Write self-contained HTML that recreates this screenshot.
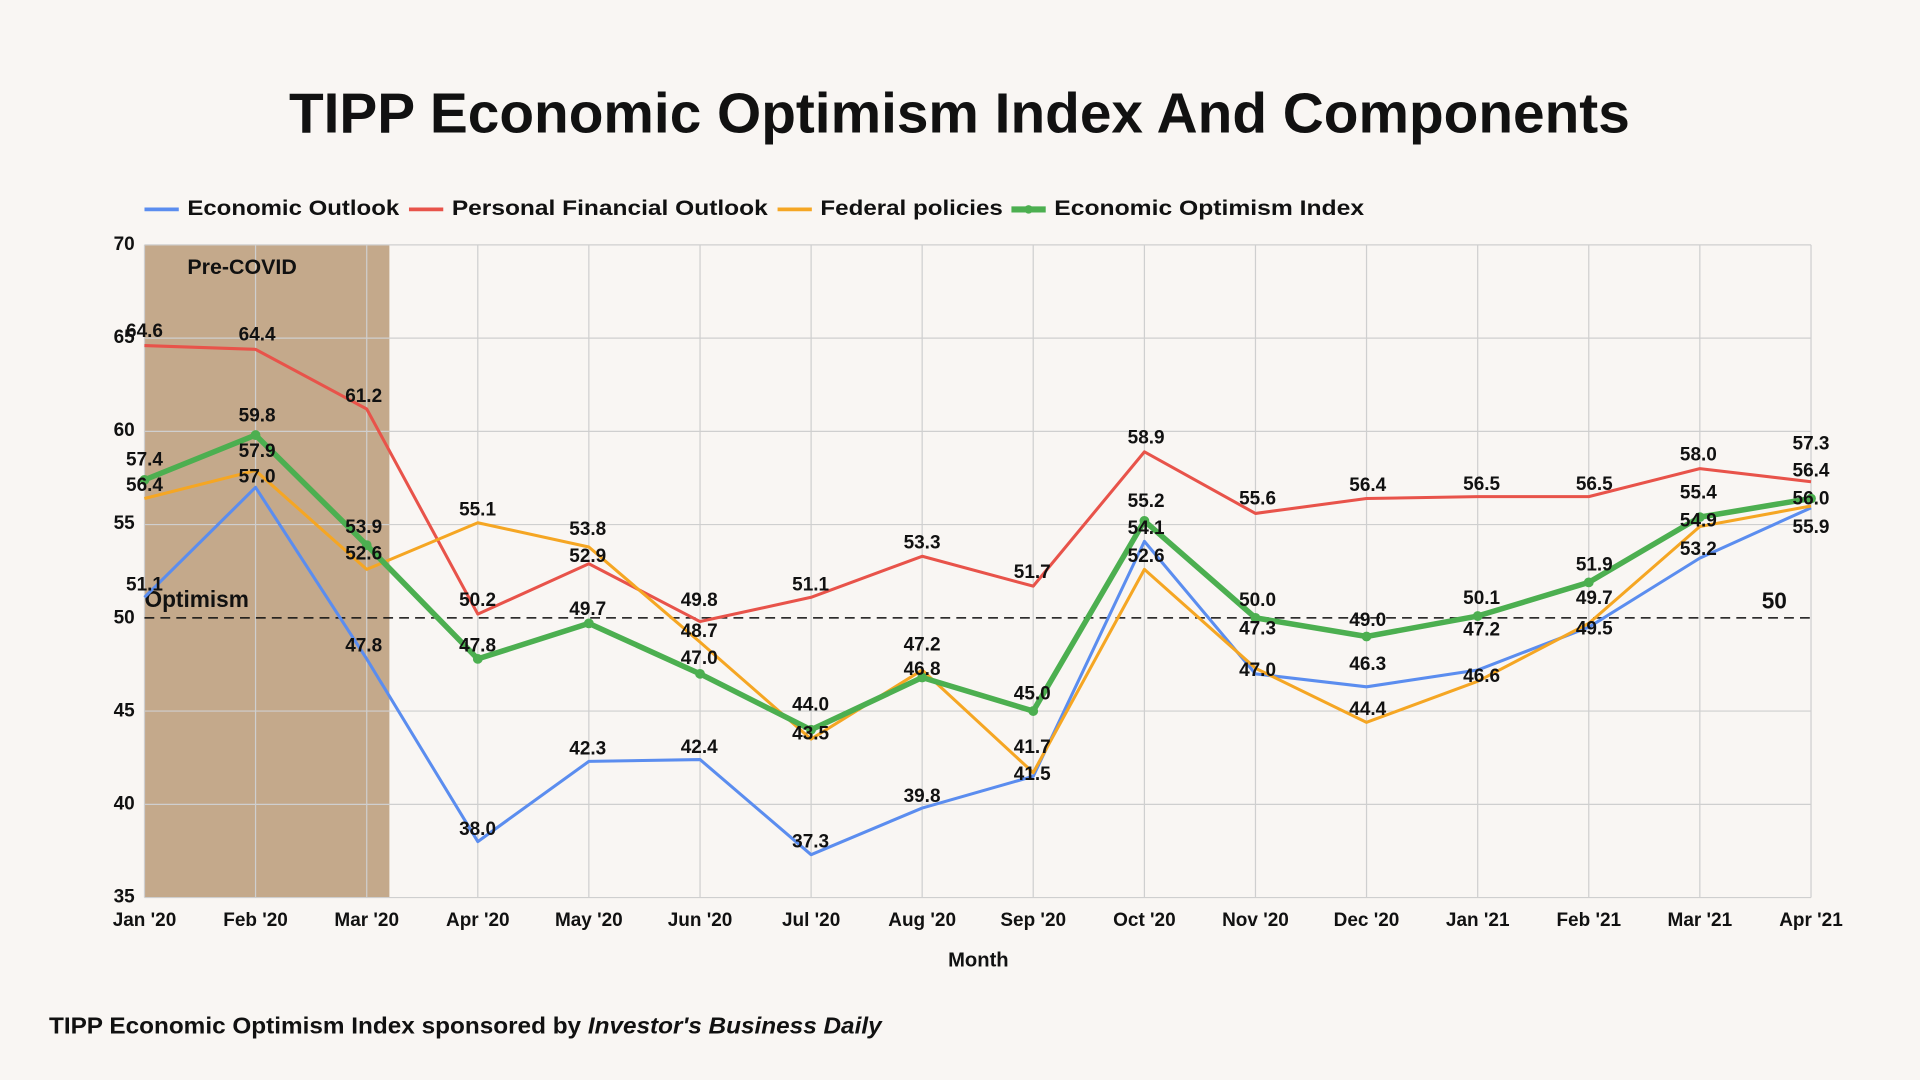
<!DOCTYPE html>
<html><head><meta charset="utf-8"><style>
html,body{margin:0;padding:0;background:#f9f6f3;}
svg{display:block;font-family:"Liberation Sans","DejaVu Sans",sans-serif;}
.l{font-size:15.5px;fill:#111;text-anchor:middle;dominant-baseline:middle;font-weight:bold}
</style></head><body>
<svg width="1920" height="1080" viewBox="0 0 1568 882" xmlns="http://www.w3.org/2000/svg">
<rect width="1568" height="882" fill="#f9f6f3"/>
<text x="236" y="96" textLength="1095" lengthAdjust="spacingAndGlyphs" dominant-baseline="middle" font-size="46" font-weight="bold" fill="#111">TIPP Economic Optimism Index And Components</text>
<g font-size="17.5" fill="#111" dominant-baseline="middle" font-weight="bold">
<line x1="118" y1="171" x2="146" y2="171" stroke="#5b8def" stroke-width="3"/><text x="153" y="171" textLength="173" lengthAdjust="spacingAndGlyphs">Economic Outlook</text>
<line x1="334" y1="171" x2="362" y2="171" stroke="#e8534a" stroke-width="3"/><text x="369" y="171" textLength="258" lengthAdjust="spacingAndGlyphs">Personal Financial Outlook</text>
<line x1="635" y1="171" x2="663" y2="171" stroke="#f5a623" stroke-width="3"/><text x="670" y="171" textLength="149" lengthAdjust="spacingAndGlyphs">Federal policies</text>
<line x1="826" y1="171" x2="854" y2="171" stroke="#4caf50" stroke-width="5"/><circle cx="840" cy="171" r="3.5" fill="#4caf50"/><text x="861" y="171" textLength="253" lengthAdjust="spacingAndGlyphs">Economic Optimism Index</text>
</g>
<rect x="118" y="200" width="200" height="533" fill="#c4a98b"/>
<g stroke="#cfcfcf" stroke-width="1">
<line x1="118" y1="200" x2="1479" y2="200"/><line x1="118" y1="276.1" x2="1479" y2="276.1"/><line x1="118" y1="352.3" x2="1479" y2="352.3"/><line x1="118" y1="428.4" x2="1479" y2="428.4"/><line x1="118" y1="580.7" x2="1479" y2="580.7"/><line x1="118" y1="656.9" x2="1479" y2="656.9"/><line x1="118" y1="733" x2="1479" y2="733"/>
<line x1="118" y1="200" x2="118" y2="733"/><line x1="208.7" y1="200" x2="208.7" y2="733"/><line x1="299.5" y1="200" x2="299.5" y2="733"/><line x1="390.2" y1="200" x2="390.2" y2="733"/><line x1="480.9" y1="200" x2="480.9" y2="733"/><line x1="571.7" y1="200" x2="571.7" y2="733"/><line x1="662.4" y1="200" x2="662.4" y2="733"/><line x1="753.1" y1="200" x2="753.1" y2="733"/><line x1="843.8" y1="200" x2="843.8" y2="733"/><line x1="934.6" y1="200" x2="934.6" y2="733"/><line x1="1025.3" y1="200" x2="1025.3" y2="733"/><line x1="1116" y1="200" x2="1116" y2="733"/><line x1="1206.8" y1="200" x2="1206.8" y2="733"/><line x1="1297.5" y1="200" x2="1297.5" y2="733"/><line x1="1388.2" y1="200" x2="1388.2" y2="733"/><line x1="1479" y1="200" x2="1479" y2="733"/>
</g>
<line x1="118" y1="504.6" x2="1479" y2="504.6" stroke="#111" stroke-width="1.2" stroke-dasharray="8,5"/>
<text x="153" y="219" font-size="17.5" fill="#111" dominant-baseline="middle" font-weight="bold">Pre-COVID</text>
<text x="118" y="491" font-size="18.5" fill="#111" dominant-baseline="middle" font-weight="bold">Optimism</text>
<text x="1449" y="492" font-size="18.5" fill="#111" text-anchor="middle" dominant-baseline="middle" font-weight="bold">50</text>
<g fill="none" stroke-linejoin="round">
<polyline stroke="#5b8def" stroke-width="2.5" points="118,487.8 208.7,398 299.5,538.1 390.2,687.3 480.9,621.8 571.7,620.3 662.4,698 753.1,659.9 843.8,634 934.6,442.1 1025.3,550.3 1116,560.9 1206.8,547.2 1297.5,512.2 1388.2,455.8 1479,414.7"/>
<polyline stroke="#e8534a" stroke-width="2.5" points="118,282.2 208.7,285.3 299.5,334 390.2,501.5 480.9,460.4 571.7,507.6 662.4,487.8 753.1,454.3 843.8,478.7 934.6,369 1025.3,419.3 1116,407.1 1206.8,405.6 1297.5,405.6 1388.2,382.7 1479,393.4"/>
<polyline stroke="#f5a623" stroke-width="2.5" points="118,407.1 208.7,384.3 299.5,465 390.2,426.9 480.9,446.7 571.7,524.4 662.4,603.6 753.1,547.2 843.8,631 934.6,465 1025.3,545.7 1116,589.9 1206.8,556.4 1297.5,509.1 1388.2,430 1479,413.2"/>
<polyline stroke="#4caf50" stroke-width="4.5" points="118,391.9 208.7,355.3 299.5,445.2 390.2,538.1 480.9,509.1 571.7,550.3 662.4,596 753.1,553.3 843.8,580.7 934.6,425.4 1025.3,504.6 1116,519.8 1206.8,503.1 1297.5,475.6 1388.2,422.3 1479,407.1"/>
</g>
<g fill="#4caf50">
<circle cx="118" cy="391.9" r="4"/><circle cx="208.7" cy="355.3" r="4"/><circle cx="299.5" cy="445.2" r="4"/><circle cx="390.2" cy="538.1" r="4"/><circle cx="480.9" cy="509.1" r="4"/><circle cx="571.7" cy="550.3" r="4"/><circle cx="662.4" cy="596" r="4"/><circle cx="753.1" cy="553.3" r="4"/><circle cx="843.8" cy="580.7" r="4"/><circle cx="934.6" cy="425.4" r="4"/><circle cx="1025.3" cy="504.6" r="4"/><circle cx="1116" cy="519.8" r="4"/><circle cx="1206.8" cy="503.1" r="4"/><circle cx="1297.5" cy="475.6" r="4"/><circle cx="1388.2" cy="422.3" r="4"/><circle cx="1479" cy="407.1" r="4"/>
</g>
<g>
<text class="l" x="118" y="271">64.6</text><text class="l" x="118" y="376">57.4</text><text class="l" x="118" y="397">56.4</text><text class="l" x="118" y="478">51.1</text>
<text class="l" x="210" y="274">64.4</text><text class="l" x="210" y="340">59.8</text><text class="l" x="210" y="369">57.9</text><text class="l" x="210" y="390">57.0</text>
<text class="l" x="297" y="324">61.2</text><text class="l" x="297" y="431">53.9</text><text class="l" x="297" y="453">52.6</text><text class="l" x="297" y="528">47.8</text>
<text class="l" x="390" y="417">55.1</text><text class="l" x="390" y="491">50.2</text><text class="l" x="390" y="528">47.8</text><text class="l" x="390" y="678">38.0</text>
<text class="l" x="480" y="433">53.8</text><text class="l" x="480" y="455">52.9</text><text class="l" x="480" y="498">49.7</text><text class="l" x="480" y="612">42.3</text>
<text class="l" x="571" y="491">49.8</text><text class="l" x="571" y="516">48.7</text><text class="l" x="571" y="538">47.0</text><text class="l" x="571" y="611">42.4</text>
<text class="l" x="662" y="478">51.1</text><text class="l" x="662" y="576">44.0</text><text class="l" x="662" y="600">43.5</text><text class="l" x="662" y="688">37.3</text>
<text class="l" x="753" y="444">53.3</text><text class="l" x="753" y="527">47.2</text><text class="l" x="753" y="547">46.8</text><text class="l" x="753" y="651">39.8</text>
<text class="l" x="843" y="468">51.7</text><text class="l" x="843" y="567">45.0</text><text class="l" x="843" y="611">41.7</text><text class="l" x="843" y="633">41.5</text>
<text class="l" x="936" y="358">58.9</text><text class="l" x="936" y="410">55.2</text><text class="l" x="936" y="432">54.1</text><text class="l" x="936" y="455">52.6</text>
<text class="l" x="1027" y="408">55.6</text><text class="l" x="1027" y="491">50.0</text><text class="l" x="1027" y="514">47.3</text><text class="l" x="1027" y="548">47.0</text>
<text class="l" x="1117" y="397">56.4</text><text class="l" x="1117" y="507">49.0</text><text class="l" x="1117" y="543">46.3</text><text class="l" x="1117" y="580">44.4</text>
<text class="l" x="1210" y="396">56.5</text><text class="l" x="1210" y="489">50.1</text><text class="l" x="1210" y="515">47.2</text><text class="l" x="1210" y="553">46.6</text>
<text class="l" x="1302" y="396">56.5</text><text class="l" x="1302" y="462">51.9</text><text class="l" x="1302" y="489">49.7</text><text class="l" x="1302" y="514">49.5</text>
<text class="l" x="1387" y="372">58.0</text><text class="l" x="1387" y="403">55.4</text><text class="l" x="1387" y="426">54.9</text><text class="l" x="1387" y="449">53.2</text>
<text class="l" x="1479" y="363">57.3</text><text class="l" x="1479" y="385">56.4</text><text class="l" x="1479" y="408">56.0</text><text class="l" x="1479" y="431">55.9</text>
</g>
<g font-size="15.5" fill="#111" text-anchor="end" dominant-baseline="middle" font-weight="bold">
<text x="110" y="200">70</text><text x="110" y="276">65</text><text x="110" y="352">60</text><text x="110" y="428">55</text><text x="110" y="505">50</text><text x="110" y="581">45</text><text x="110" y="657">40</text><text x="110" y="733">35</text>
</g>
<g font-size="15.5" fill="#111" text-anchor="middle" dominant-baseline="middle" font-weight="bold">
<text x="118" y="752">Jan '20</text><text x="208.7" y="752">Feb '20</text><text x="299.5" y="752">Mar '20</text><text x="390.2" y="752">Apr '20</text><text x="480.9" y="752">May '20</text><text x="571.7" y="752">Jun '20</text><text x="662.4" y="752">Jul '20</text><text x="753.1" y="752">Aug '20</text><text x="843.8" y="752">Sep '20</text><text x="934.6" y="752">Oct '20</text><text x="1025.3" y="752">Nov '20</text><text x="1116" y="752">Dec '20</text><text x="1206.8" y="752">Jan '21</text><text x="1297.5" y="752">Feb '21</text><text x="1388.2" y="752">Mar '21</text><text x="1479" y="752">Apr '21</text>
<text x="799" y="785" font-size="16.5">Month</text>
</g>
<text x="40" y="839" font-size="18.5" fill="#111" dominant-baseline="middle" font-weight="bold" textLength="680" lengthAdjust="spacingAndGlyphs">TIPP Economic Optimism Index sponsored by <tspan font-style="italic">Investor's Business Daily</tspan></text>
</svg>
</body></html>
